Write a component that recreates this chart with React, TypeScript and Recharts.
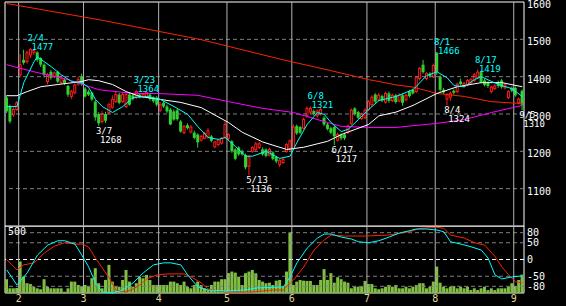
import React from 'react';
import { ComposedChart, Bar, Line, XAxis, YAxis, ReferenceLine, ReferenceDot, ReferenceArea } from 'recharts';

const dates = [
  '1/26','1/27','1/28','1/31',
  '2/1','2/2','2/3','2/4','2/7','2/8','2/9','2/10','2/14','2/15','2/16','2/17','2/18','2/21','2/22','2/23','2/24','2/25','2/28',
  '3/1','3/2','3/3','3/4','3/7','3/8','3/9','3/10','3/11','3/14','3/15','3/16','3/17','3/18','3/22','3/23','3/24','3/25','3/28','3/29','3/30','3/31',
  '4/1','4/4','4/5','4/6','4/7','4/8','4/11','4/12','4/13','4/14','4/15','4/18','4/19','4/20','4/21','4/22','4/25','4/26','4/27','4/28',
  '5/2','5/6','5/9','5/10','5/11','5/12','5/13','5/16','5/17','5/18','5/19','5/20','5/23','5/24','5/25','5/26','5/27','5/30','5/31',
  '6/1','6/2','6/3','6/6','6/7','6/8','6/9','6/10','6/13','6/14','6/15','6/16','6/17','6/20','6/21','6/22','6/23','6/24','6/27','6/28','6/29','6/30',
  '7/1','7/4','7/5','7/6','7/7','7/8','7/11','7/12','7/13','7/14','7/15','7/19','7/20','7/21','7/22','7/25','7/26','7/27','7/28','7/29',
  '8/1','8/2','8/3','8/4','8/5','8/8','8/9','8/10','8/11','8/12','8/15','8/16','8/17','8/18','8/19','8/22','8/23','8/24','8/25','8/26','8/29','8/30','8/31',
  '9/1','9/2','9/5',
];

const open = [
  1344,1320,1298,1312,1405,1445,1440,1458,1465,1465,
  1450,1432,1387,1413,1400,1413,1384,1392,1375,1347,
  1357,1380,1400,1368,1360,1357,1333,1300,1280,1300,
  1304,1318,1333,1352,1333,1320,1352,1350,1345,1352,
  1345,1345,1352,1344,1344,1310,1330,1320,1312,1307,
  1310,1280,1250,1270,1252,1250,1245,1230,1235,1238,
  1240,1212,1218,1222,1238,1235,1227,1205,1210,1200,
  1190,1160,1200,1205,1210,1205,1205,1190,1197,1185,
  1165,1170,1200,1205,1207,1268,1265,1262,1295,1305,
  1308,1295,1300,1290,1272,1262,1265,1230,1245,1245,
  1250,1275,1315,1305,1288,1290,1312,1325,1352,1338,
  1348,1332,1355,1336,1350,1335,1350,1338,1360,1365,
  1360,1395,1432,1395,1408,1400,1464,1400,1365,1340,
  1345,1362,1360,1387,1375,1378,1383,1390,1398,1412,
  1390,1385,1360,1368,1385,1390,1370,1344,1370,1370,
  1330,1362,
];
const high = [
  1350,1325,1318,1335,1460,1472,1470,1477,1474,1468,
  1452,1436,1410,1418,1414,1416,1404,1396,1378,1365,
  1382,1400,1408,1372,1365,1360,1338,1305,1308,1306,
  1330,1350,1360,1356,1358,1356,1356,1354,1364,1356,
  1356,1360,1355,1347,1348,1332,1334,1325,1316,1312,
  1314,1284,1270,1275,1270,1255,1248,1244,1252,1262,
  1244,1228,1234,1238,1280,1248,1230,1208,1214,1204,
  1194,1190,1214,1225,1226,1210,1208,1210,1200,1188,
  1180,1182,1222,1232,1272,1272,1268,1290,1320,1321,
  1312,1312,1316,1294,1276,1266,1268,1250,1248,1250,
  1272,1315,1318,1308,1304,1315,1338,1350,1356,1356,
  1352,1360,1360,1355,1354,1356,1354,1354,1364,1368,
  1400,1426,1445,1412,1412,1435,1466,1404,1370,1356,
  1360,1366,1384,1395,1386,1394,1396,1410,1419,1416,
  1394,1388,1376,1380,1390,1394,1382,1364,1374,1374,
  1344,1366,
];
const low = [
  1303,1275,1292,1308,1398,1432,1435,1450,1458,1440,
  1426,1398,1380,1392,1396,1383,1380,1378,1346,1340,
  1352,1376,1376,1344,1348,1335,1282,1268,1274,1276,
  1300,1314,1330,1326,1330,1316,1322,1336,1340,1342,
  1342,1342,1336,1330,1320,1305,1316,1303,1270,1282,
  1282,1250,1246,1258,1248,1232,1210,1226,1232,1234,
  1224,1208,1214,1218,1234,1230,1196,1176,1188,1188,
  1152,1136,1196,1200,1206,1188,1184,1186,1176,1168,
  1158,1166,1196,1200,1204,1244,1246,1258,1290,1300,
  1296,1290,1296,1268,1256,1246,1217,1226,1230,1230,
  1246,1270,1296,1286,1284,1286,1308,1320,1328,1334,
  1332,1328,1330,1332,1328,1332,1322,1334,1344,1352,
  1356,1390,1408,1390,1398,1396,1405,1360,1354,1324,
  1335,1352,1356,1376,1370,1374,1380,1386,1394,1382,
  1374,1370,1355,1364,1370,1368,1366,1340,1358,1346,
  1326,1310,
];
const close = [
  1307,1280,1312,1330,1432,1437,1464,1473,1470,1445,
  1432,1405,1405,1397,1410,1387,1400,1382,1352,1360,
  1378,1392,1380,1347,1352,1339,1291,1275,1300,1282,
  1325,1339,1352,1330,1352,1352,1325,1340,1360,1345,
  1352,1357,1340,1334,1325,1325,1320,1307,1272,1285,
  1286,1253,1267,1262,1265,1236,1224,1240,1248,1255,
  1228,1225,1230,1235,1272,1245,1200,1180,1192,1192,
  1157,1185,1210,1220,1220,1192,1188,1205,1180,1173,
  1175,1178,1218,1228,1265,1248,1250,1285,1315,1315,
  1300,1308,1312,1272,1260,1250,1240,1245,1235,1235,
  1268,1310,1300,1290,1300,1310,1333,1345,1333,1350,
  1336,1355,1335,1350,1332,1350,1330,1350,1348,1355,
  1397,1422,1412,1408,1402,1430,1413,1365,1358,1352,
  1355,1357,1380,1380,1382,1390,1392,1405,1412,1385,
  1378,1375,1372,1375,1375,1372,1378,1360,1362,1350,
  1340,1325,
];
const volume = [
  103,35,35,37,235,122,73,67,47,35,
  28,103,47,35,35,35,35,10,35,85,
  85,60,47,60,47,110,185,73,35,97,
  210,85,47,47,97,172,85,47,73,122,
  110,135,97,60,60,60,60,60,85,85,
  73,60,85,47,35,60,85,60,35,22,
  60,85,85,103,103,148,160,152,122,60,
  148,160,172,148,97,85,73,77,60,92,
  97,47,160,452,60,85,97,92,90,90,
  60,60,97,178,97,148,77,118,103,85,
  77,35,47,47,47,90,67,67,35,28,
  35,47,60,47,60,35,35,47,35,47,
  60,73,73,35,47,85,197,77,47,35,
  47,52,35,47,35,47,22,35,22,35,
  47,22,35,22,35,35,35,47,73,52,
  97,137,
];

// moving-average readings: candle index -> value
const maShortAt = [0,3,5,8,9,13,16,19,22,24,26,28,31,34,37,41,45,49,53,56,59,62,64,67,70,72,76,80,83,85,88,91,93,95,98,100,103,106,109,114,119,123,126,129,131,134,137,139,142,145,148,151];
const maShortVal = [1320,1320,1384,1440,1453,1427,1405,1387,1384,1371,1339,1320,1304,1320,1344,1347,1339,1320,1299,1266,1237,1232,1237,1213,1187,1187,1200,1181,1187,1224,1272,1304,1299,1277,1253,1259,1285,1312,1336,1347,1365,1403,1413,1397,1376,1373,1392,1400,1387,1376,1368,1347];
const ma25At = [0,3,6,10,15,22,24,27,31,35,39,45,51,57,65,69,75,82,87,94,98,106,109,114,119,126,132,139,145,151];
const ma25Val = [1349,1349,1360,1373,1379,1387,1392,1389,1379,1360,1347,1339,1331,1317,1277,1251,1225,1205,1211,1227,1245,1272,1295,1305,1323,1355,1373,1384,1384,1373];
const ma75At = [0,8,18,27,37,44,56,65,75,84,94,98,106,114,126,134,142,151];
const ma75Val = [1432,1413,1392,1365,1355,1355,1350,1333,1315,1304,1277,1267,1264,1264,1275,1285,1304,1323];
const ma200At = [0,28,57,81,95,106,109,114,119,126,134,142,151];
const ma200Val = [1596,1551,1499,1445,1416,1392,1387,1378,1372,1355,1347,1333,1328];

// oscillator readings
const oscCyanAt = [0,3,6,9,12,15,17,20,22,24,26,28,31,34,37,40,43,46,48,51,53,56,59,64,70,73,81,83,85,88,91,93,95,98,101,103,106,109,112,115,118,120,123,126,128,130,133,136,139,141,143,145,148,151];
const oscCyanVal = [-31,-76,-40,13,43,56,56,46,13,-22,-70,-97,-100,-91,-70,-40,-16,-10,-10,-16,-46,-82,-91,-94,-91,-85,-82,-52,-10,34,64,76,76,67,61,53,50,56,67,79,86,91,91,88,83,53,46,38,28,4,-46,-58,-52,-49];
const oscRedAt = [0,3,5,8,11,14,17,20,22,24,26,28,30,32,35,37,39,41,44,47,52,54,57,59,64,72,78,81,84,87,90,93,95,99,105,112,118,121,126,128,130,134,137,140,143,145,147,149,151];
const oscRedVal = [0,-31,-16,-10,19,40,50,46,46,37,4,-25,-55,-91,-97,-88,-76,-58,-46,-43,-43,-52,-70,-88,-97,-97,-91,-91,-61,-22,28,58,73,70,70,73,83,93,96,93,73,64,50,43,9,-22,-46,-66,-70];

const priceTicks = [1100, 1200, 1300, 1400, 1500, 1600];
const priceGrid = [1100, 1200, 1300, 1400, 1500];
const oscTicks = [80, 50, 0, -50, -80];
const monthStarts = ['2/1', '3/1', '4/1', '5/2', '6/1', '7/1', '8/1', '9/1'];
const monthLabels = ['2', '3', '4', '5', '6', '7', '8', '9'];

const annDates = ['2/4', '3/7', '3/23', '5/13', '6/8', '6/17', '8/1', '8/4', '8/17', '9/5'];
const annValues = [1477, 1268, 1364, 1136, 1321, 1217, 1466, 1324, 1419, 1310];
const annKinds = ['hi', 'lo', 'hi', 'lo', 'hi', 'lo', 'hi', 'lo', 'hi', 'lo'];

const FONT = '"DejaVu Sans Mono", monospace';
const UP = '#ff1a1a';
const DOWN = '#2ed12e';

function sparse(at: number[], val: number[]) {
  const a: (number | null)[] = dates.map(() => null);
  at.forEach((k, j) => { a[k] = val[j]; });
  return a;
}
const maS = sparse(maShortAt, maShortVal);
const ma25 = sparse(ma25At, ma25Val);
const ma75 = sparse(ma75At, ma75Val);
const ma200 = sparse(ma200At, ma200Val);
const oscC = sparse(oscCyanAt, oscCyanVal);
const oscR = sparse(oscRedAt, oscRedVal);

const rows = dates.map((d, i) => ({
  d,
  range: [low[i], high[i]],
  o: open[i], h: high[i], l: low[i], c: close[i],
  vol: volume[i],
  maS: maS[i], ma25: ma25[i], ma75: ma75[i], ma200: ma200[i],
  oscC: oscC[i], oscR: oscR[i],
}));

const Candle = (p: any) => {
  const { x, y, width, height, payload } = p;
  if (x == null || y == null) return null;
  const top = Math.min(y, y + height);
  const bh = Math.abs(height);
  const { o, h, l, c } = payload;
  const span = h - l || 1;
  const yv = (v: number) => top + ((h - v) / span) * bh;
  const cx = x + width / 2;
  const up = c >= o;
  const y1 = yv(Math.max(o, c));
  const y2 = yv(Math.min(o, c));
  const col = up ? UP : DOWN;
  return (
    <g>
      <line x1={cx} x2={cx} y1={top} y2={top + bh} stroke={col} strokeWidth={1} />
      {up ? (
        <rect x={x + 0.5} y={y1} width={width - 1} height={Math.max(y2 - y1, 1)} fill="#000" stroke={col} strokeWidth={1} />
      ) : (
        <rect x={x} y={y1} width={width} height={Math.max(y2 - y1, 1)} fill={col} />
      )}
    </g>
  );
};

const PriceTick = (p: any) => (
  <text x={p.x} y={p.y + 6} fill="#fff" fontSize={10} fontFamily={FONT} textAnchor="start">
    {p.payload.value}
  </text>
);
const OscTick = (p: any) => (
  <text x={p.x} y={p.y + 3.5} fill="#fff" fontSize={10} fontFamily={FONT} textAnchor="start">
    {p.payload.value}
  </text>
);
const MonthTick = (p: any) => {
  const k = monthStarts.indexOf(p.payload.value);
  return (
    <text x={p.x - 1.7} y={p.y + 9} fill="#e0d890" fontSize={10} fontFamily={FONT} textAnchor="middle">
      {k >= 0 ? monthLabels[k] : ''}
    </text>
  );
};

const annShape = (kind: string, value: number, date: string) => (p: any) => {
  const { cx, cy } = p;
  if (cx == null || cy == null) return null;
  const hi = kind === 'hi';
  const col = hi ? '#00ffff' : '#ffffff';
  return (
    <g>
      <text x={cx - 3} y={hi ? cy - 7 : cy + 8} fill={col} fontSize={9} fontFamily={FONT}>{date}</text>
      <text x={cx + 1} y={hi ? cy + 2 : cy + 17} fill={col} fontSize={9} fontFamily={FONT}>{value}</text>
    </g>
  );
};

export default function App() {
  return (
    <div style={{ position: 'fixed', left: 0, top: 0, width: 566, height: 306, background: '#000', overflow: 'hidden' }}>
      <div style={{ position: 'absolute', left: 0, top: 0 }}>
        <ComposedChart width={566} height={227} data={rows} margin={{ top: 2, right: 0, bottom: 1, left: 5 }}>
          <XAxis dataKey="d" hide />
          <YAxis yAxisId="p" orientation="right" domain={[1000, 1600]} ticks={priceTicks} interval={0} width={42}
            axisLine={false} tickLine={false} tickSize={0} tickMargin={3} tick={<PriceTick />} />
          {priceGrid.map((v) => (
            <ReferenceLine key={'g' + v} yAxisId="p" y={v} stroke="#808080" strokeDasharray="4 3" />
          ))}
          {monthStarts.map((m) => (
            <ReferenceLine key={'m' + m} yAxisId="p" x={m} position="start" stroke="#b4b4b4" />
          ))}
          <Bar yAxisId="p" dataKey="range" barSize={3} shape={<Candle />} isAnimationActive={false} />
          <Line yAxisId="p" dataKey="ma200" stroke="#ff2200" dot={false} connectNulls isAnimationActive={false} strokeWidth={1} />
          <Line yAxisId="p" dataKey="ma75" stroke="#ff00ff" dot={false} connectNulls isAnimationActive={false} strokeWidth={1} />
          <Line yAxisId="p" dataKey="ma25" stroke="#ffffff" dot={false} connectNulls isAnimationActive={false} strokeWidth={1} />
          <Line yAxisId="p" dataKey="maS" stroke="#00ffff" dot={false} connectNulls isAnimationActive={false} strokeWidth={1} />
          {annDates.map((d, k) => (
            <ReferenceDot key={'a' + d} yAxisId="p" x={d} y={annValues[k]} r={0}
              shape={annShape(annKinds[k], annValues[k], d)} />
          ))}
          <ReferenceArea yAxisId="p" x1={dates[0]} x2={dates[dates.length - 1]} y1={1000} y2={1600}
            stroke="#ffffff" fill="none" fillOpacity={0} />
        </ComposedChart>
      </div>
      <div style={{ position: 'absolute', left: 0, top: 226 }}>
        <ComposedChart width={566} height={80} data={rows} margin={{ top: 0, right: 0, bottom: 0, left: 5 }}>
          <XAxis dataKey="d" ticks={monthStarts} interval={0} height={13} axisLine={false} tickLine={false}
            tickSize={0} tickMargin={0} tick={<MonthTick />} />
          <YAxis yAxisId="o" orientation="right" domain={[-100, 100]} ticks={oscTicks} interval={0} width={42}
            axisLine={false} tickLine={false} tickSize={0} tickMargin={3} tick={<OscTick />} />
          <YAxis yAxisId="v" orientation="left" domain={[0, 500]} hide />
          {[80, 50, -50, -80].map((v) => (
            <ReferenceLine key={'og' + v} yAxisId="o" y={v} stroke="#808080" strokeDasharray="4 3" />
          ))}
          <ReferenceLine yAxisId="o" y={0} stroke="#ffffff" strokeDasharray="4 3" />
          {monthStarts.map((m) => (
            <ReferenceLine key={'om' + m} yAxisId="o" x={m} position="start" stroke="#b4b4b4" />
          ))}
          <Bar yAxisId="v" dataKey="vol" fill="#80c040" barSize={3} isAnimationActive={false} />
          <Line yAxisId="o" dataKey="oscR" stroke="#ff2200" dot={false} connectNulls isAnimationActive={false} strokeWidth={1} />
          <Line yAxisId="o" dataKey="oscC" stroke="#00ffff" dot={false} connectNulls isAnimationActive={false} strokeWidth={1} />
          <ReferenceLine yAxisId="v" y={500} stroke="none"
            label={(lp: any) => (
              <text x={lp.viewBox.x + 3} y={lp.viewBox.y + 9} fill="#fff" fontSize={10} fontFamily={FONT}>500</text>
            )} />
          <ReferenceArea yAxisId="o" x1={dates[0]} x2={dates[dates.length - 1]} y1={-100} y2={100}
            stroke="#ffffff" fill="none" fillOpacity={0} />
        </ComposedChart>
      </div>
    </div>
  );
}
